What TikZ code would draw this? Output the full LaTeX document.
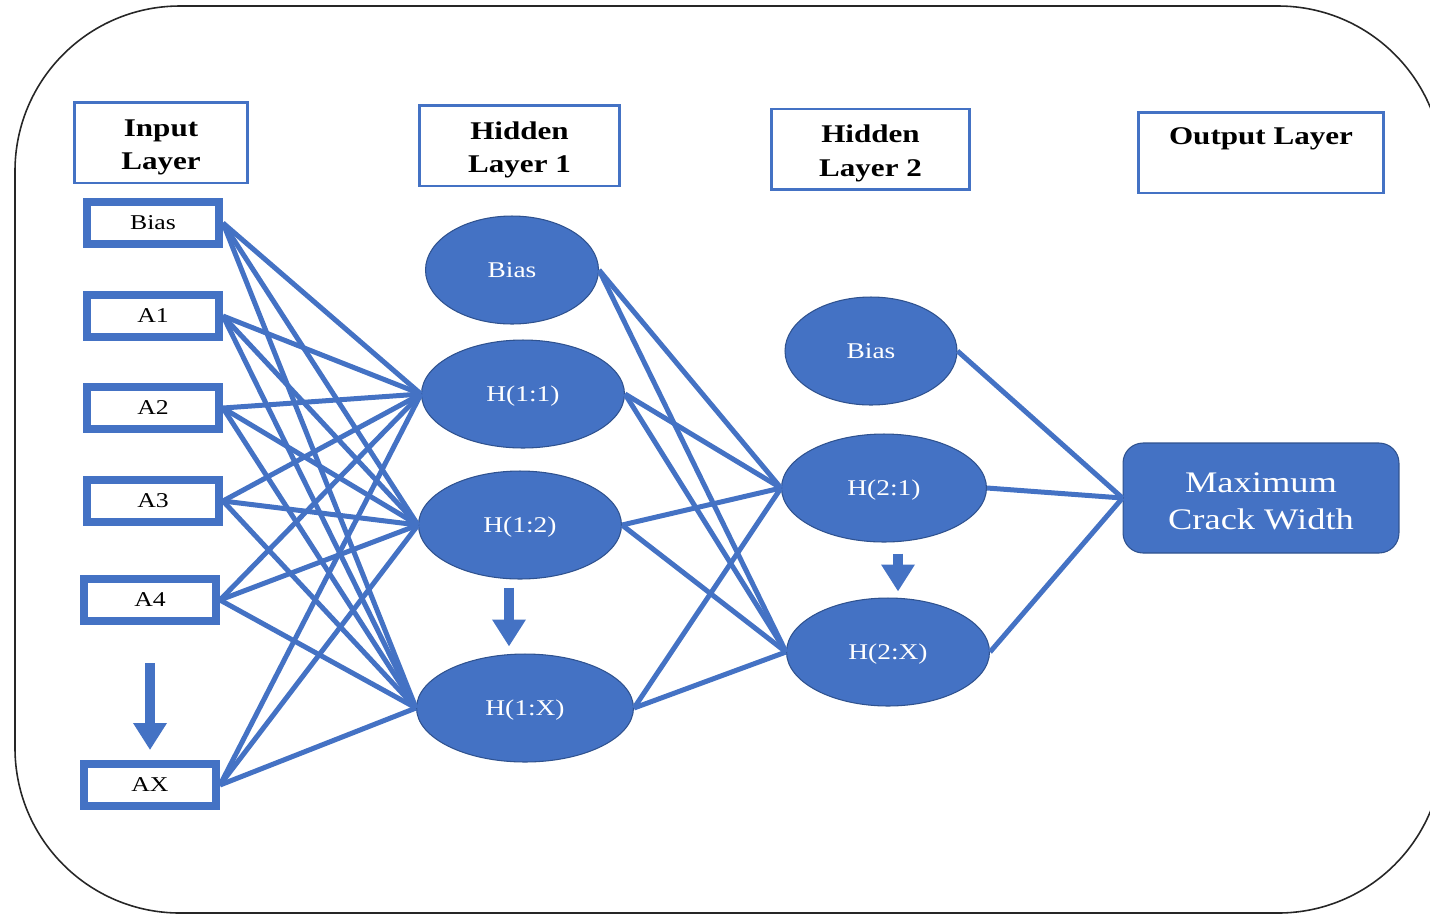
\documentclass[tikz,border=0pt]{standalone}
\usepackage{fontspec}
\setmainfont[FakeStretch=1.22]{Liberation Serif}
\usepackage{tikz}
\usetikzlibrary{arrows.meta,positioning,shapes.geometric}
\definecolor{nnblue}{HTML}{4472C4}
\definecolor{nnedge}{HTML}{2F528F}

\begin{document}
\begin{tikzpicture}[
  x=0.02cm, y=-0.02cm,
  headbox/.style={draw=nnblue, line width=0.05cm, minimum height=1.61cm, align=center, inner sep=0pt, font=\fontsize{14.5}{19}\selectfont\bfseries},
  inbox/.style={draw=nnblue, line width=0.16cm, fill=white, minimum width=2.64cm, minimum height=0.84cm, inner sep=0pt, text height=7.8pt, text depth=0pt, font=\fontsize{12}{14}\selectfont},
  neuron/.style={ellipse, draw=nnedge, line width=0.6pt, fill=nnblue, text=white, inner sep=0pt, minimum height=2.16cm, text height=8pt, text depth=0pt, font=\fontsize{12.8}{15}\selectfont},
  outbox/.style={draw=nnedge, line width=0.6pt, fill=nnblue, text=white, rounded corners=0.4cm, minimum width=5.52cm, minimum height=2.2cm, align=center, font=\fontsize{17}{21.5}\selectfont},
  link/.style={draw=nnblue, line width=0.1cm},
  downarr/.style={draw=nnblue, line width=0.2cm, -{Triangle[length=0.54cm, width=0.64cm]}}
]
\useasboundingbox (0,0) rectangle (1430,914);
% frame
\draw[line width=0.9pt, black!85, rounded corners=3.3cm] (15,6) rectangle (1443,913);

% layer titles
\node[headbox, minimum width=3.47cm] (tin) at (161,142.5) {\rule{0pt}{15pt}Input\\Layer};
\node[headbox, minimum width=4.01cm] (th1) at (519.5,145.5) {\rule{0pt}{15pt}Hidden\\Layer 1};
\node[headbox, minimum width=3.97cm] (th2) at (870.5,149) {\rule{0pt}{15pt}Hidden\\Layer 2};
\node[headbox, minimum width=4.91cm] (tout) at (1261,152.5) {Output Layer\\~};

% input layer
\node[inbox] (ib) at (153,223) {Bias};
\node[inbox] (a1) at (153,316) {A1};
\node[inbox] (a2) at (153,408) {A2};
\node[inbox] (a3) at (153,501) {A3};
\node[inbox] (a4) at (150,600) {A4};
\node[inbox] (ax) at (150,785) {AX};

% hidden layer 1
\node[neuron, minimum width=3.46cm] (b1) at (512,270) {Bias};
\node[neuron, minimum width=4.06cm] (h11) at (523,394) {H(1:1)};
\node[neuron, minimum width=4.06cm] (h12) at (520,525) {H(1:2)};
\node[neuron, minimum width=4.34cm] (h1x) at (525,708) {H(1:X)};

% hidden layer 2
\node[neuron, minimum width=3.44cm] (b2) at (871,351) {Bias};
\node[neuron, minimum width=4.10cm] (h21) at (884,488) {H(2:1)};
\node[neuron, minimum width=4.06cm] (h2x) at (888,652) {H(2:X)};

% output
\node[outbox] (out) at (1261,498) {\rule{0pt}{15pt}Maximum\\Crack Width};

% weights
\foreach \src in {ib,a1,a2,a3,a4,ax}
  \foreach \dst in {h11,h12,h1x}
    \draw[link] (\src.east) -- (\dst.west);
\foreach \src in {b1,h11,h12,h1x}
  \foreach \dst in {h21,h2x}
    \draw[link] (\src.east) -- (\dst.west);
\foreach \src in {b2,h21,h2x}
  \draw[link] (\src.east) -- (out.west);

% "and so on" arrows
\draw[downarr] ([shift={(0,38)}]a4.south) -- ([shift={(0,-10)}]ax.north);
\draw[downarr] ([shift={(-11,8)}]h12.south) -- ([shift={(-16,-7)}]h1x.north);
\draw[downarr] ([shift={(14,11)}]h21.south) -- ([shift={(10,-6)}]h2x.north);
\end{tikzpicture}
\end{document}
